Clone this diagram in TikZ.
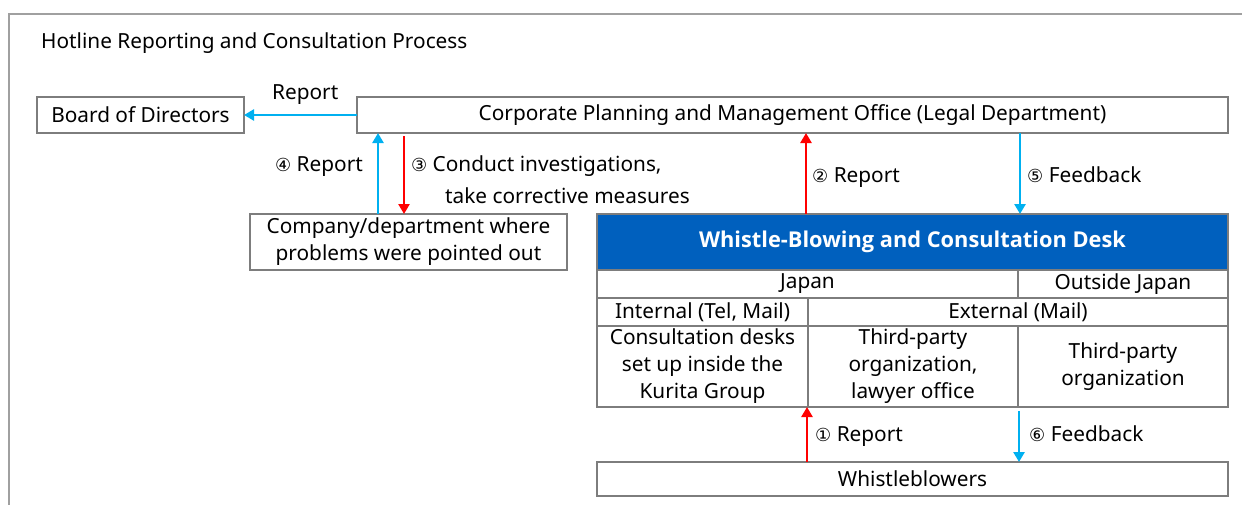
\documentclass[tikz,border=0pt]{standalone}
\usepackage{fontspec}
\setmainfont{Noto Sans}
\newfontfamily\circfont{DejaVu Sans}
\newfontfamily\headfont{Open Sans}
\usetikzlibrary{arrows.meta}
\definecolor{frameGray}{RGB}{160,160,160}
\definecolor{boxGray}{RGB}{125,125,125}
\definecolor{deskBlue}{RGB}{0,96,190}
\definecolor{arrBlue}{RGB}{0,176,240}
\definecolor{arrRed}{RGB}{255,0,0}
\newcommand{\circnum}[1]{{\circfont\fontsize{18}{20}\selectfont #1}}
\tikzset{
  flowbox/.style={draw=boxGray, line width=1.3pt, inner sep=0pt, outer sep=0pt,
    align=center, font=\fontsize{20.8}{27}\selectfont},
  bluearrow/.style={-{Triangle[length=10pt,width=11pt]}, line width=2.8pt, draw=arrBlue},
  redarrow/.style={-{Triangle[length=10pt,width=11pt]}, line width=2.8pt, draw=arrRed},
  lbl/.style={anchor=base west, inner sep=0pt, font=\fontsize{20.8}{27}\selectfont}
}

\begin{document}
\begin{tikzpicture}[x=1pt, y=-1pt]
    \clip (0,0) rectangle (1242,504);
    \draw[frameGray, line width=1.5pt] (9,14) rectangle (1270,530);
    \node[lbl] (title) at (41,48) {Hotline Reporting and Consultation Process};

    % upper boxes
    \node[flowbox, minimum width=207pt, minimum height=36pt] (board) at (140.5,115) {Board of Directors};
    \node[flowbox, minimum width=871pt, minimum height=36pt] (corp) at (792.5,115) {Corporate Planning and Management Office (Legal Department)};
    \node[flowbox, minimum width=317pt, minimum height=56pt] (comp) at (408.5,242) {Company/department where\\problems were pointed out};

    % desk table
    \node[flowbox, fill=deskBlue, text=white, font=\headfont\fontsize{21.8}{27}\selectfont\bfseries,
      minimum width=631pt, minimum height=56pt] (desk) at (912.5,242) {Whistle-Blowing and Consultation Desk};
    \node[flowbox, minimum width=421pt, minimum height=28pt] (japan) at (807.5,284) {Japan};
    \node[flowbox, minimum width=210pt, minimum height=28pt] (outside) at (1123,284) {Outside Japan};
    \node[flowbox, minimum width=211pt, minimum height=28pt] (internal) at (702.5,312) {Internal (Tel, Mail)};
    \node[flowbox, minimum width=420pt, minimum height=28pt] (external) at (1018,312) {External (Mail)};
    \node[flowbox, minimum width=211pt, minimum height=81pt] (cellA) at (702.5,366.5) {Consultation desks\\set up inside the\\Kurita Group};
    \node[flowbox, minimum width=210pt, minimum height=81pt] (cellB) at (913,366.5) {Third-party\\organization,\\lawyer office};
    \node[flowbox, minimum width=210pt, minimum height=81pt] (cellC) at (1123,366.5) {Third-party\\organization};
    \node[flowbox, minimum width=631pt, minimum height=34pt] (whist) at (912.5,479) {Whistleblowers};

    \coordinate (xFour) at (378,0);
    \coordinate (xThree) at (404,0);
    \coordinate (xTwo) at (806,0);
    \coordinate (xFive) at (1020,0);
    \coordinate (xOne) at (807,0);
    \coordinate (xSix) at (1019,0);

    \draw[bluearrow] (corp.west) -- (board.east);
    \draw[bluearrow] (comp.north -| xFour) -- (corp.south -| xFour);
    \draw[redarrow, shorten <=3pt] (corp.south -| xThree) -- (comp.north -| xThree);
    \draw[redarrow] (desk.north -| xTwo) -- (corp.south -| xTwo);
    \draw[bluearrow] (corp.south -| xFive) -- (desk.north -| xFive);
    \draw[redarrow] (whist.north -| xOne) -- (cellA.south -| xOne);
    \draw[bluearrow, shorten <=4pt] (cellC.south -| xSix) -- (whist.north -| xSix);

    % labels
    \node[lbl] (lReport) at (272,99) {Report};
    \node[lbl] (lFour) at (275,171) {\circnum{④} Report};
    \node[lbl] (lThree) at (411,171) {\circnum{③} Conduct investigations,};
    \node[lbl] (lThreeB) at (445,203) {take corrective measures};
    \node[lbl] (lTwo) at (812,182) {\circnum{②} Report};
    \node[lbl] (lFive) at (1027,182) {\circnum{⑤} Feedback};
    \node[lbl] (lOne) at (815,441) {\circnum{①} Report};
    \node[lbl] (lSix) at (1029,441) {\circnum{⑥} Feedback};
\end{tikzpicture}
\end{document}
